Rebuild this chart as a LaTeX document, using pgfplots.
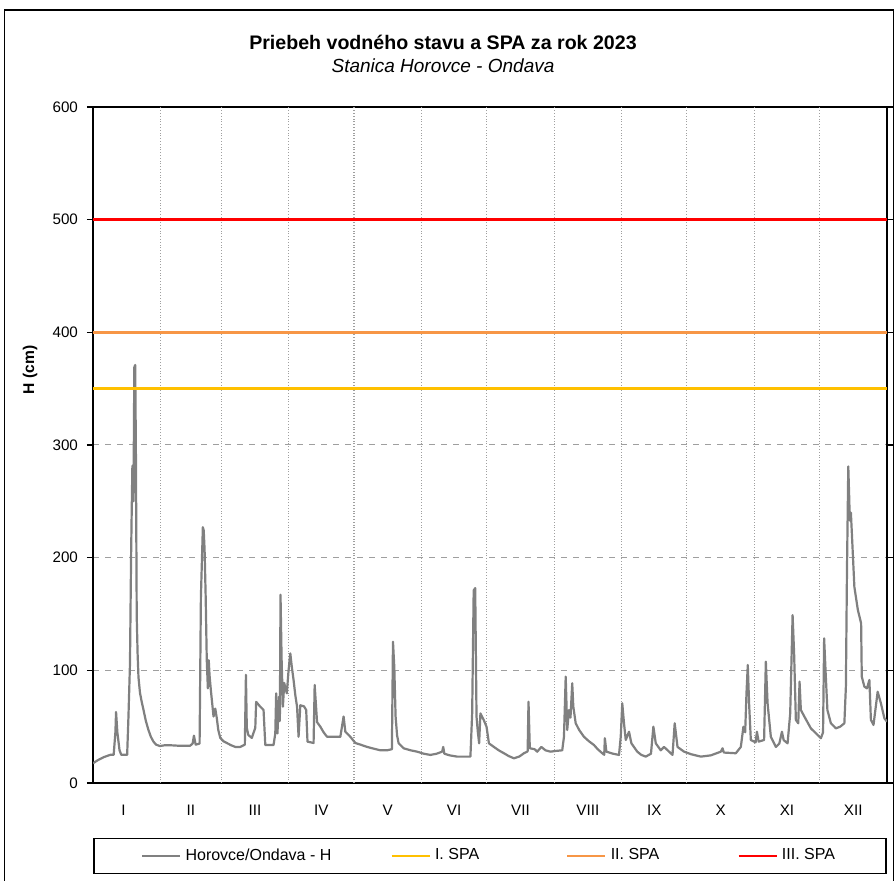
\documentclass[border=0pt]{standalone}
\usepackage{fontspec}
\setmainfont{Liberation Sans}
\usepackage{pgfplots}
\pgfplotsset{compat=1.18}

\definecolor{hgray}{RGB}{128,128,128}
\definecolor{spa1}{RGB}{255,192,0}
\definecolor{spa2}{RGB}{247,150,70}
\definecolor{spa3}{RGB}{255,0,0}

\begin{document}
% 1 px of the reference = 0.5pt
\begin{tikzpicture}[x=0.5pt,y=0.5pt]
\useasboundingbox (0,0) rectangle (896,881);
\clip (0,0) rectangle (896,881);
\fill[white] (0,0) rectangle (896,881);
\draw[line width=0.9pt] (4.5,-5) -- (4.5,871) -- (893.5,871) -- (893.5,-5);

\node[font=\bfseries\fontsize{9.8}{11}\selectfont] at (443,839) {Priebeh vodného stavu a SPA za rok 2023};
\node[font=\itshape\fontsize{9.5}{11}\selectfont] at (443,815) {Stanica Horovce - Ondava};
\node[rotate=90, font=\bfseries\fontsize{7.8}{9}\selectfont] at (30,511) {H (cm)};

\begin{axis}[
  at={(46.5pt,49pt)}, anchor=south west,
  scale only axis, width=397pt, height=338pt,
  xmin=0, xmax=365, ymin=0, ymax=600,
  axis line style={black, line width=0.8pt},
  font=\fontsize{7.6}{9}\selectfont,
  /pgf/number format/assume math mode=true,
  ytick={0,100,...,600},
  tick align=outside,
  y tick style={black, line width=0.6pt},
  major tick length=3pt,
  ymajorgrids,
  every axis y grid/.append style={gray!75, dashed, line width=0.5pt},
  xtick={14,45,74.5,105,135.5,166,196.5,227.5,258,288.5,319,349.5},
  xticklabels={I,II,III,IV,V,VI,VII,VIII,IX,X,XI,XII},
  x tick style={draw=none},
  xticklabel style={yshift=-4.5pt},
  yticklabel style={xshift=-1pt},
  extra x ticks={31,59,90,120,151,181,212,243,273,304,334},
  extra x tick labels={},
  extra x tick style={grid=major, major grid style={gray!75, densely dotted, line width=0.6pt}},
  legend columns=4,
  legend style={at={(0.5,-0.0814)}, anchor=north, draw=black, line width=0.6pt,
    font=\fontsize{8}{9}\selectfont, inner xsep=23.5pt, inner ysep=3pt,
    /tikz/column 2/.style={column sep=27.5pt},
    /tikz/column 4/.style={column sep=41.5pt},
    /tikz/column 6/.style={column sep=37pt}},
  legend image code/.code={\draw[#1, line width=1.3pt] (0pt,0pt) -- (19pt,0pt);},
]

\addplot[hgray, line width=1.1pt, line join=round] coordinates {
(0,17.5) (2,20) (5,23) (8,25) (9.5,25) (10.3,45) (10.6,63) (11.2,45) (12.2,29) (13,25)
(15.7,25) (16.3,59) (17,106) (17.5,200) (17.8,242) (18.1,281) (18.4,282) (18.6,250)
(19.0,369) (19.4,371) (19.7,300) (20.1,148) (20.5,115) (20.9,94) (21.6,80) (22.4,72)
(23.2,65) (24.3,55) (25.5,47) (26.6,41) (27.8,36.7) (29,34) (30.8,32.8) (33,33.5)
(35.4,33.5) (40,33) (44.6,33) (45.8,35) (46.4,42)
(47.2,34) (49.0,35) (49.6,165) (50.5,227) (50.9,224) (51.3,207) (51.8,165) (52.3,109)
(52.8,84) (53.2,109) (53.6,95) (54.2,82) (55.4,59) (56.2,66) (56.9,57.7) (57.6,47) (58.5,40)
(60,37) (61.5,35.5) (63.5,33.5) (65.4,32) (67.7,32) (69.8,34) (70.3,96) (70.7,49) (71.4,42.6) (73.0,40)
(74.6,49) (75.0,72) (76.9,67.7) (78.4,64.8) (79.2,33.7) (83.0,33.7) (83.8,44) (84.2,79.6)
(84.8,44) (85.5,76.6) (85.9,55) (86.2,167) (86.7,110) (87.3,67.7) (87.9,88.8) (89.1,79.6)
(89.9,100) (90.7,115) (91.4,103) (92.2,91.4) (93.0,78) (93.8,67.7) (94.5,41) (95.3,69) (97,68)
(98.0,64.8) (98.6,36.7) (101.4,35.5) (101.9,87) (103,54) (104.5,50) (106,45) (107.6,41) (113.7,41)
(115.2,59) (116,45.5) (118.3,41) (120.6,35.5) (123,34) (126,32) (129,30.5) (132.1,29) (135.2,29) (137.4,30)
(137.9,125.4) (138.5,103) (139.1,59) (139.8,42) (140.5,35.2) (142.8,30.8) (146,29) (149,27.8) (152,26) (155.1,24.9)
(158,26) (160.5,27.8) (161,32) (161.5,26) (164,24.5) (167.4,23.4) (173.5,23.4) (174.3,61.8) (175,171)
(175.7,173) (176.3,59) (176.9,45.5) (177.5,35.2) (178.1,61.8) (179.6,56) (180.9,50)
(182,35.2) (184.3,32) (186.5,29) (188.9,26.4) (191,24) (193.5,21.9) (196,23.5) (198.1,26.4) (199.8,28) (200.2,72.2)
(200.8,30.8) (203,30) (204.2,27.8) (206.1,32) (208,29) (210.3,27.8) (213,28.5) (215.7,29) (216.5,41)
(217.3,94.4) (218,47) (218.8,64.8) (219.5,58) (220.3,88.5) (220.8,67.7) (221.9,53) (223.5,47)
(225.7,41) (228,37) (230.3,33.7) (232,30) (234.1,26.4) (235,25) (235.3,39.7) (236,27.8) (239,26) (241.8,24.9)
(242.6,41) (243.3,70.7) (244.1,53) (244.9,38.2) (246.4,45.5) (247.5,35.2) (250.2,27.8)
(252,25) (254.1,23.4) (256.5,26) (257.6,50) (258.7,35.2) (261,29) (262.5,32) (265.6,26.4)
(266.4,24.9) (267.4,53) (268.7,32) (271.7,27.8) (275,25.5) (279.4,23.4) (284,24.5) (288.6,27.8) (289.4,30.8)
(290,27) (295.5,26.4) (297.8,32) (299,50) (299.8,45) (300.4,79.6) (301,104.7) (301.6,70.7)
(302.4,38.2) (304.6,36) (305.2,45.5) (306,36.7) (308.5,38.2) (309.3,107.7) (310.1,70.7)
(311.6,41) (313.9,32) (315.5,35) (316.7,45.5) (317.5,38) (319.3,35.2) (320.5,61.8)
(321.6,149) (322.3,115) (323.1,56) (324.2,53) (324.8,90) (325.4,64.8) (327,59) (330,48.5)
(333.1,42.6) (334.6,39.7) (335.6,45) (336.1,128.4) (336.8,97.4) (337.6,64.8) (339.2,53)
(341.5,48.5) (343.5,50) (345.4,53) (346.1,85.5) (346.6,189) (347.2,281) (347.6,255)
(347.9,233) (348.4,240) (350,174) (351.6,153.6) (353.1,141.7) (353.4,94.4) (354.6,85.5)
(355.8,84) (356.9,91.4) (357.6,56) (358.8,51.5) (360.7,81) (362.2,70.7) (363.8,57.4)
(365,54.4)
};
\addlegendentry{Horovce/Ondava - H}

\addplot[spa1, line width=1.3pt] coordinates {(0,350) (365,350)};
\addlegendentry{I. SPA}
\addplot[spa2, line width=1.3pt] coordinates {(0,400) (365,400)};
\addlegendentry{II. SPA}
\addplot[spa3, line width=1.3pt] coordinates {(0,500) (365,500)};
\addlegendentry{III. SPA}
\end{axis}
\end{tikzpicture}
\end{document}
